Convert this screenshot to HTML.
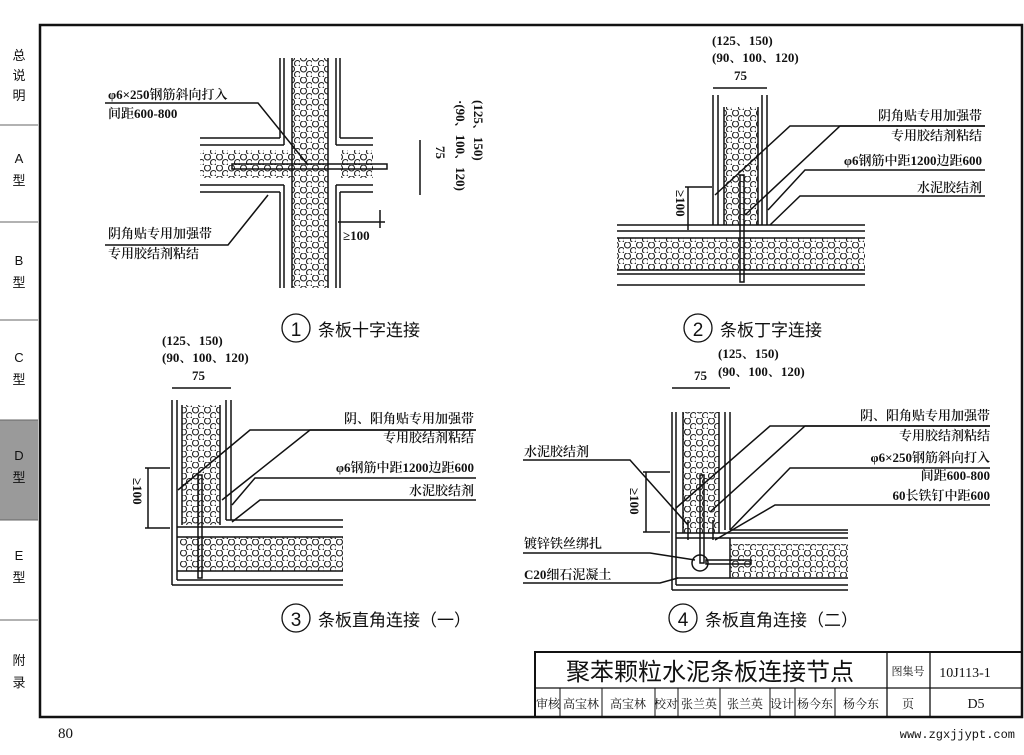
<!DOCTYPE html>
<html><head><meta charset="utf-8"><style>
body{margin:0;background:#fff}
svg{display:block}
text{font-family:"Liberation Serif","Noto Serif CJK SC","Noto Sans CJK SC",serif;fill:#111}
.s{font-size:13px;font-weight:600}
.cj{font-family:"Liberation Sans","Noto Sans CJK SC",sans-serif}
</style></head><body>
<svg width="1024" height="755" viewBox="0 0 1024 755" xmlns="http://www.w3.org/2000/svg">
<defs>
<pattern id="c" width="12" height="11" patternUnits="userSpaceOnUse">
<circle cx="3.5" cy="3" r="3" fill="none" stroke="#222" stroke-width="1.1"/>
<circle cx="9.5" cy="8.5" r="3" fill="none" stroke="#222" stroke-width="1.1"/>
</pattern>
</defs>
<rect width="1024" height="755" fill="#fff"/>
<!-- sidebar -->
<rect x="0" y="420" width="38" height="100" fill="#9a9a9a"/>
<g stroke="#666" stroke-width="1">
<line x1="0" y1="125" x2="38" y2="125"/><line x1="0" y1="222" x2="38" y2="222"/>
<line x1="0" y1="320" x2="38" y2="320"/><line x1="0" y1="420" x2="38" y2="420"/>
<line x1="0" y1="520" x2="38" y2="520"/><line x1="0" y1="620" x2="38" y2="620"/>
</g>
<g class="cj" font-size="13" text-anchor="middle">
<text x="19" y="60" class="cj">总</text><text x="19" y="80" class="cj">说</text><text x="19" y="100" class="cj">明</text>
<text x="19" y="163" class="cj">A</text><text x="19" y="185" class="cj">型</text>
<text x="19" y="265" class="cj">B</text><text x="19" y="287" class="cj">型</text>
<text x="19" y="362" class="cj">C</text><text x="19" y="384" class="cj">型</text>
<text x="19" y="460" class="cj">D</text><text x="19" y="482" class="cj">型</text>
<text x="19" y="560" class="cj">E</text><text x="19" y="582" class="cj">型</text>
<text x="19" y="665" class="cj">附</text><text x="19" y="687" class="cj">录</text>
</g>
<!-- frame -->
<rect x="40" y="25" width="982" height="692" fill="none" stroke="#111" stroke-width="2.5"/>
<text x="58" y="738" font-size="15">80</text>
<text x="1015" y="738" font-size="12" text-anchor="end" style="font-family:'Liberation Mono',monospace" fill="#555">www.zgxjjypt.com</text>

<!-- Diagram 1 -->
<rect x="292" y="58" width="36" height="230" fill="url(#c)"/>
<rect x="200" y="150" width="92" height="28" fill="url(#c)"/>
<rect x="341" y="150" width="32" height="28" fill="url(#c)"/>
<g stroke="#111" stroke-width="1.5" fill="none">
<line x1="280" y1="58" x2="280" y2="138"/><line x1="284" y1="58" x2="284" y2="145"/>
<line x1="280" y1="192" x2="280" y2="288"/><line x1="284" y1="185" x2="284" y2="288"/>
<line x1="292" y1="58" x2="292" y2="288"/><line x1="328" y1="58" x2="328" y2="288"/>
<line x1="336" y1="58" x2="336" y2="145"/><line x1="340" y1="58" x2="340" y2="138"/>
<line x1="336" y1="185" x2="336" y2="288"/><line x1="340" y1="192" x2="340" y2="288"/>
<line x1="200" y1="138" x2="280" y2="138"/><line x1="200" y1="145" x2="284" y2="145"/>
<line x1="200" y1="185" x2="284" y2="185"/><line x1="200" y1="192" x2="280" y2="192"/>
<line x1="340" y1="138" x2="373" y2="138"/><line x1="336" y1="145" x2="373" y2="145"/>
<line x1="336" y1="185" x2="373" y2="185"/><line x1="340" y1="192" x2="373" y2="192"/>
<rect x="232" y="164" width="155" height="5"/>
<polyline points="105,103 258,103 308,165"/>
<polyline points="105,245 228,245 268,195"/>
<line x1="338" y1="222" x2="385" y2="222"/><line x1="380" y1="210" x2="380" y2="228"/>
<line x1="420" y1="140" x2="420" y2="195"/>
</g>
<text x="108" y="99" class="s">φ6×250钢筋斜向打入</text>
<text x="108" y="118" class="s">间距600-800</text>
<text x="108" y="238" class="s">阴角贴专用加强带</text>
<text x="108" y="258" class="s">专用胶结剂粘结</text>
<text x="343" y="240" class="s">≥100</text>
<text transform="translate(436,146) rotate(90)" class="s">75</text>
<text transform="translate(456,100) rotate(90)" class="s">·(90、100、120)</text>
<text transform="translate(474,100) rotate(90)" class="s">(125、150)</text>
<circle cx="296" cy="328" r="14" fill="none" stroke="#111" stroke-width="1.3"/>
<text x="296" y="336" font-size="19" text-anchor="middle" class="cj">1</text>
<text x="318" y="336" font-size="17" class="cj">条板十字连接</text>

<!-- Diagram 2 -->
<rect x="724" y="107" width="34" height="118" fill="url(#c)"/>
<rect x="617" y="238" width="248" height="32" fill="url(#c)"/>
<g stroke="#111" stroke-width="1.5" fill="none">
<line x1="713" y1="95" x2="713" y2="225"/><line x1="718" y1="95" x2="718" y2="225"/>
<line x1="724" y1="107" x2="724" y2="225"/><line x1="758" y1="107" x2="758" y2="225"/>
<line x1="762" y1="95" x2="762" y2="225"/><line x1="767" y1="95" x2="767" y2="225"/>
<line x1="617" y1="225" x2="865" y2="225"/><line x1="617" y1="231" x2="865" y2="231"/>
<line x1="617" y1="238" x2="865" y2="238"/><line x1="617" y1="270" x2="865" y2="270"/>
<line x1="617" y1="274" x2="865" y2="274"/><line x1="617" y1="285" x2="865" y2="285"/>
<rect x="740" y="175" width="4" height="107"/>
<line x1="713" y1="88" x2="767" y2="88"/>
<line x1="685" y1="187" x2="712" y2="187"/><line x1="688" y1="187" x2="688" y2="230"/>
<polyline points="985,126 790,126 715,195"/>
<polyline points="985,126 840,126 745,215"/>
<polyline points="985,170 805,170 768,210"/>
<polyline points="985,196 800,196 770,225"/>
</g>
<text x="712" y="45" class="s">(125、150)</text>
<text x="712" y="62" class="s">(90、100、120)</text>
<text x="734" y="80" class="s">75</text>
<text x="982" y="120" class="s" text-anchor="end">阴角贴专用加强带</text>
<text x="982" y="140" class="s" text-anchor="end">专用胶结剂粘结</text>
<text x="982" y="165" class="s" text-anchor="end">φ6钢筋中距1200边距600</text>
<text x="982" y="192" class="s" text-anchor="end">水泥胶结剂</text>
<text transform="translate(676,190) rotate(90)" class="s">≥100</text>
<circle cx="698" cy="328" r="14" fill="none" stroke="#111" stroke-width="1.3"/>
<text x="698" y="336" font-size="19" text-anchor="middle" class="cj">2</text>
<text x="720" y="336" font-size="17" class="cj">条板丁字连接</text>

<!-- Diagram 3 -->
<rect x="182" y="405" width="38" height="120" fill="url(#c)"/>
<rect x="180" y="537" width="163" height="34" fill="url(#c)"/>
<g stroke="#111" stroke-width="1.5" fill="none">
<line x1="172" y1="400" x2="172" y2="585"/><line x1="177" y1="400" x2="177" y2="580"/>
<line x1="182" y1="405" x2="182" y2="525"/><line x1="220" y1="405" x2="220" y2="525"/>
<line x1="226" y1="400" x2="226" y2="520"/><line x1="231" y1="400" x2="231" y2="520"/>
<line x1="226" y1="520" x2="343" y2="520"/><line x1="177" y1="527" x2="343" y2="527"/>
<line x1="177" y1="537" x2="343" y2="537"/><line x1="177" y1="571" x2="343" y2="571"/>
<line x1="177" y1="580" x2="343" y2="580"/><line x1="172" y1="585" x2="343" y2="585"/>
<rect x="198" y="475" width="4" height="103"/>
<line x1="172" y1="388" x2="231" y2="388"/>
<line x1="145" y1="468" x2="170" y2="468"/><line x1="148" y1="468" x2="148" y2="528"/><line x1="145" y1="528" x2="170" y2="528"/>
<polyline points="476,430 250,430 178,490"/>
<polyline points="476,430 310,430 222,500"/>
<polyline points="476,478 255,478 232,505"/>
<polyline points="476,500 260,500 232,522"/>
</g>
<text x="162" y="345" class="s">(125、150)</text>
<text x="162" y="362" class="s">(90、100、120)</text>
<text x="192" y="380" class="s">75</text>
<text x="474" y="423" class="s" text-anchor="end">阴、阳角贴专用加强带</text>
<text x="474" y="442" class="s" text-anchor="end">专用胶结剂粘结</text>
<text x="474" y="472" class="s" text-anchor="end">φ6钢筋中距1200边距600</text>
<text x="474" y="495" class="s" text-anchor="end">水泥胶结剂</text>
<text transform="translate(133,478) rotate(90)" class="s">≥100</text>
<circle cx="296" cy="618" r="14" fill="none" stroke="#111" stroke-width="1.3"/>
<text x="296" y="626" font-size="19" text-anchor="middle" class="cj">3</text>
<text x="318" y="626" font-size="17" class="cj">条板直角连接（一）</text>

<!-- Diagram 4 -->
<rect x="683" y="412" width="36" height="121" fill="url(#c)"/>
<rect x="730" y="544" width="118" height="33" fill="url(#c)"/>
<g stroke="#111" stroke-width="1.5" fill="none">
<line x1="672" y1="412" x2="672" y2="590"/><line x1="676" y1="412" x2="676" y2="585"/>
<line x1="683" y1="412" x2="683" y2="533"/><line x1="719" y1="412" x2="719" y2="533"/>
<line x1="725" y1="412" x2="725" y2="530"/><line x1="730" y1="412" x2="730" y2="530"/>
<line x1="730" y1="530" x2="848" y2="530"/><line x1="676" y1="533" x2="848" y2="533"/>
<line x1="676" y1="538" x2="848" y2="538"/><line x1="676" y1="578" x2="848" y2="578"/>
<line x1="676" y1="585" x2="848" y2="585"/><line x1="672" y1="590" x2="848" y2="590"/>
<line x1="730" y1="538" x2="730" y2="578"/>
<rect x="700" y="475" width="4" height="88"/>
<rect x="706" y="560" width="45" height="4"/>
<circle cx="700" cy="563" r="8"/>
<line x1="688" y1="520" x2="688" y2="540"/><line x1="713" y1="520" x2="713" y2="540"/>
<line x1="672" y1="388" x2="730" y2="388"/>
<line x1="643" y1="472" x2="670" y2="472"/><line x1="646" y1="472" x2="646" y2="532"/><line x1="643" y1="532" x2="670" y2="532"/>
<polyline points="990,426 770,426 676,508"/>
<polyline points="990,426 805,426 710,512"/>
<polyline points="990,468 790,468 730,530"/>
<polyline points="990,505 775,505 715,540"/>
<polyline points="523,460 630,460 688,525"/>
<polyline points="523,553 650,553 695,560"/>
<polyline points="523,583 660,583 678,578"/>
</g>
<text x="718" y="358" class="s">(125、150)</text>
<text x="718" y="376" class="s">(90、100、120)</text>
<text x="694" y="380" class="s">75</text>
<text x="990" y="420" class="s" text-anchor="end">阴、阳角贴专用加强带</text>
<text x="990" y="440" class="s" text-anchor="end">专用胶结剂粘结</text>
<text x="990" y="462" class="s" text-anchor="end">φ6×250钢筋斜向打入</text>
<text x="990" y="480" class="s" text-anchor="end">间距600-800</text>
<text x="990" y="500" class="s" text-anchor="end">60长铁钉中距600</text>
<text x="524" y="456" class="s">水泥胶结剂</text>
<text x="524" y="548" class="s">镀锌铁丝绑扎</text>
<text x="524" y="579" class="s">C20细石泥凝土</text>
<text transform="translate(630,488) rotate(90)" class="s">≥100</text>
<circle cx="683" cy="618" r="14" fill="none" stroke="#111" stroke-width="1.3"/>
<text x="683" y="626" font-size="19" text-anchor="middle" class="cj">4</text>
<text x="705" y="626" font-size="17" class="cj">条板直角连接（二）</text>

<!-- title block -->
<g stroke="#111" fill="none">
<rect x="535" y="652" width="487" height="65" stroke-width="2"/>
<line x1="535" y1="688" x2="1022" y2="688" stroke-width="1.3"/>
<line x1="887" y1="652" x2="887" y2="717" stroke-width="1.3"/>
<line x1="930" y1="652" x2="930" y2="717" stroke-width="1.3"/>
<g stroke-width="1">
<line x1="560" y1="688" x2="560" y2="717"/><line x1="602" y1="688" x2="602" y2="717"/>
<line x1="655" y1="688" x2="655" y2="717"/><line x1="678" y1="688" x2="678" y2="717"/>
<line x1="720" y1="688" x2="720" y2="717"/><line x1="770" y1="688" x2="770" y2="717"/>
<line x1="795" y1="688" x2="795" y2="717"/><line x1="835" y1="688" x2="835" y2="717"/>
</g></g>
<text x="710" y="680" font-size="24" text-anchor="middle" class="cj">聚苯颗粒水泥条板连接节点</text>
<text x="908" y="675" font-size="11" text-anchor="middle">图集号</text>
<text x="965" y="677" font-size="14" text-anchor="middle">10J113-1</text>
<g font-size="12" text-anchor="middle">
<text x="548" y="708">审核</text><text x="581" y="708">高宝林</text><text x="628" y="708" fill="#444">高宝林</text>
<text x="666" y="708">校对</text><text x="699" y="708">张兰英</text><text x="745" y="708" fill="#444">张兰英</text>
<text x="782" y="708">设计</text><text x="815" y="708">杨今东</text><text x="861" y="708" fill="#444">杨今东</text>
<text x="908" y="708">页</text><text x="976" y="708" font-size="14">D5</text>
</g>
</svg>
</body></html>
